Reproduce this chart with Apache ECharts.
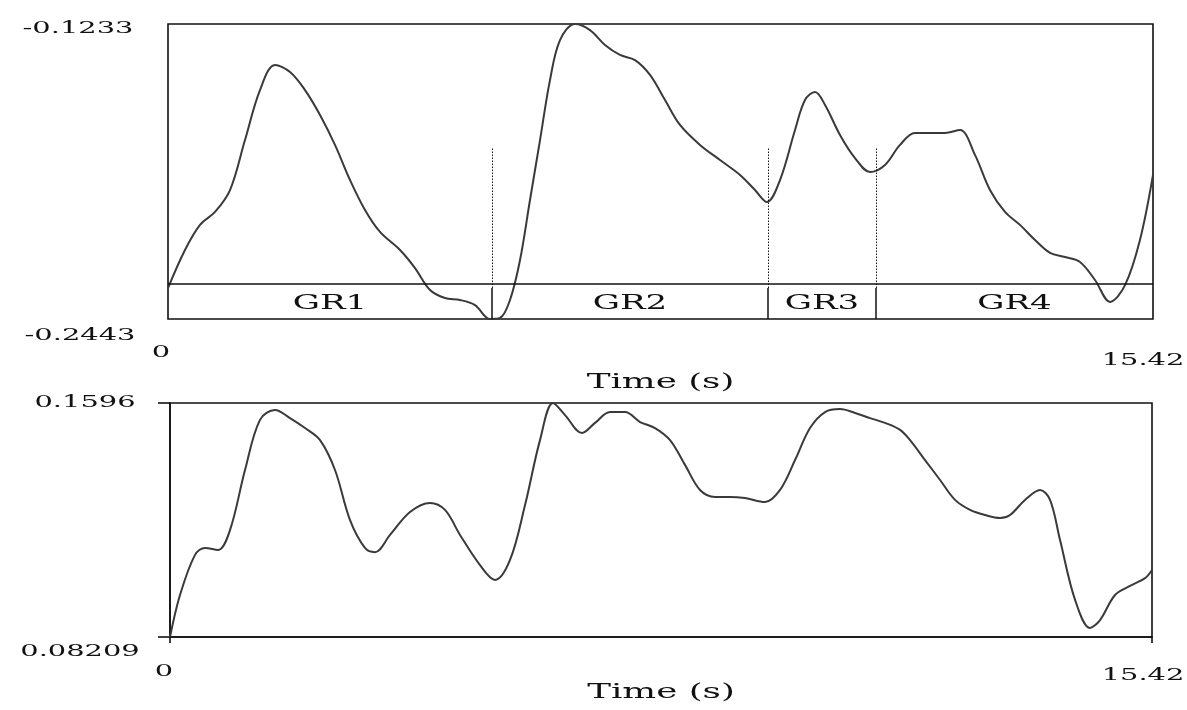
<!DOCTYPE html>
<html><head><meta charset="utf-8">
<script src="https://cdn.jsdelivr.net/npm/echarts@6/dist/echarts.min.js"></script>
<style>html,body{margin:0;padding:0;background:#fff}#c{width:1187px;height:710px}</style>
</head><body><div id="c"></div>
<script>
// ---- data ----
const topTime = [0,0.266,0.501,0.736,0.971,1.205,1.440,1.675,1.910,2.145,2.380,2.614,2.849,3.084,3.319,3.632,3.867,4.102,4.336,4.571,4.806,5.041,5.197,5.354,5.511,5.667,5.824,5.980,6.137,6.372,6.606,6.841,7.076,7.311,7.546,7.781,8.015,8.328,8.642,8.955,9.189,9.377,9.581,9.816,9.972,10.129,10.286,10.520,10.755,10.990,11.225,11.459,11.694,11.929,12.164,12.399,12.633,12.868,13.103,13.338,13.573,13.808,14.042,14.277,14.512,14.747,14.982,15.216,15.420];
const topValue = [-0.2316,-0.2160,-0.2057,-0.2004,-0.1914,-0.1709,-0.1504,-0.1401,-0.1430,-0.1504,-0.1606,-0.1729,-0.1873,-0.1996,-0.2086,-0.2160,-0.2234,-0.2324,-0.2357,-0.2365,-0.2386,-0.2443,-0.2439,-0.2365,-0.2201,-0.1955,-0.1709,-0.1463,-0.1299,-0.1233,-0.1258,-0.1319,-0.1360,-0.1381,-0.1442,-0.1545,-0.1647,-0.1729,-0.1791,-0.1852,-0.1914,-0.1963,-0.1873,-0.1668,-0.1545,-0.1512,-0.1565,-0.1688,-0.1783,-0.1840,-0.1811,-0.1729,-0.1680,-0.1680,-0.1680,-0.1668,-0.1770,-0.1914,-0.2004,-0.2057,-0.2119,-0.2172,-0.2189,-0.2209,-0.2283,-0.2373,-0.2304,-0.2119,-0.1852];
const bottomTime = [0,0.157,0.393,0.550,0.754,0.942,1.178,1.413,1.649,1.884,2.120,2.356,2.591,2.827,3.062,3.219,3.455,3.769,4.083,4.318,4.554,4.868,5.104,5.339,5.575,5.810,6.015,6.203,6.470,6.674,6.910,7.145,7.381,7.616,7.852,8.087,8.323,8.558,8.794,9.030,9.344,9.579,9.815,10.050,10.286,10.521,10.757,10.992,11.228,11.464,11.621,11.856,12.092,12.327,12.563,12.798,13.034,13.191,13.426,13.662,13.819,13.976,14.212,14.447,14.604,14.840,15.075,15.311,15.420];
const bottomValue = [0.08209,0.0960,0.1093,0.1116,0.1109,0.1175,0.1374,0.1540,0.1573,0.1546,0.1513,0.1473,0.1374,0.1208,0.1116,0.1102,0.1159,0.1235,0.1265,0.1242,0.1159,0.1059,0.1010,0.1076,0.1258,0.1473,0.1596,0.1556,0.1497,0.1530,0.1566,0.1566,0.1533,0.1513,0.1473,0.1391,0.1308,0.1285,0.1285,0.1281,0.1268,0.1308,0.1407,0.1513,0.1566,0.1576,0.1563,0.1546,0.1530,0.1507,0.1473,0.1407,0.1341,0.1275,0.1242,0.1225,0.1215,0.1225,0.1275,0.1308,0.1275,0.1142,0.0944,0.0851,0.0877,0.0960,0.0990,0.1016,0.1043];
const xTicks = [0, 15.42];
const topYTicks = [-0.2443, -0.1233];
const bottomYTicks = [0.08209, 0.1596];
const groupNames = ['GR1', 'GR2', 'GR3', 'GR4'];
const groupBounds = [0, 5.072, 9.393, 11.084, 15.42];
const bandTop = -0.2316;
const dottedTop = -0.1742;
const xTitle = 'Time (s)';

// ---- chart ----
const FONT = '"DejaVu Serif", "Liberation Serif", serif';
const SX = 1.7;
const INK = '#111';
const chart = echarts.init(document.getElementById('c'), null, {renderer: 'canvas'});

const zip = (a, b) => a.map((v, i) => [v, b[i]]);
const markData = [{yAxis: bandTop, lineStyle: {type: 'solid', color: INK, width: 1.5}}];
groupBounds.slice(1, -1).forEach(b => {
  markData.push([{coord: [b, topYTicks[0]], lineStyle: {type: 'solid', color: INK, width: 1.5}}, {coord: [b, bandTop]}]);
  markData.push([{coord: [b, bandTop], lineStyle: {type: [1.5, 1.5], color: INK, width: 1}}, {coord: [b, dottedTop]}]);
});

const gridStyle = {show: true, borderColor: INK, borderWidth: 1.6, backgroundColor: 'transparent'};
const option = {
  animation: false,
  backgroundColor: '#fff',
  grid: [
    Object.assign({left: 168, top: 24, width: 985, height: 295}, gridStyle),
    Object.assign({left: 170, top: 403, width: 982, height: 234}, gridStyle)
  ],
  xAxis: [
    {gridIndex: 0, type: 'value', min: xTicks[0], max: xTicks[1], axisLine: {show: false}, axisTick: {show: false}, axisLabel: {show: false}, splitLine: {show: false}},
    {gridIndex: 1, type: 'value', min: xTicks[0], max: xTicks[1], axisLine: {show: true, lineStyle: {color: INK, width: 1.6}},
      axisTick: {show: true, customValues: xTicks, length: 6, lineStyle: {color: INK, width: 1.6}}, axisLabel: {show: false}, splitLine: {show: false}}
  ],
  yAxis: [
    {gridIndex: 0, type: 'value', min: topYTicks[0], max: topYTicks[1], axisLine: {show: false}, axisTick: {show: false}, axisLabel: {show: false}, splitLine: {show: false}},
    {gridIndex: 1, type: 'value', min: bottomYTicks[0], max: bottomYTicks[1], axisLine: {show: true, lineStyle: {color: INK, width: 1.6}},
      axisTick: {show: true, customValues: bottomYTicks, length: 12, lineStyle: {color: INK, width: 1.6}}, axisLabel: {show: false}, splitLine: {show: false}}
  ],
  series: [
    {type: 'line', xAxisIndex: 0, yAxisIndex: 0, data: zip(topTime, topValue), smooth: 0.35, symbol: 'none', clip: true,
      lineStyle: {color: '#3a3a3a', width: 2},
      markLine: {silent: true, symbol: ['none', 'none'], label: {show: false}, animation: false, data: markData}},
    {type: 'line', xAxisIndex: 1, yAxisIndex: 1, data: zip(bottomTime, bottomValue), smooth: 0.35, symbol: 'none', clip: true,
      lineStyle: {color: '#3a3a3a', width: 2}}
  ]
};
chart.setOption(option);

// ---- text labels (stretched serif, like the reference) ----
function txt(x, y, s, size) {
  return {type: 'text', x: x, y: y, scaleX: SX, silent: true,
    style: {text: s, font: size + 'px ' + FONT, fill: INK, align: 'center', verticalAlign: 'middle', textAlign: 'center', textVerticalAlign: 'middle'}};
}
const px = (g, x, y) => chart.convertToPixel({gridIndex: g}, [x, y]);
const els = [];
// top panel
let tl = px(0, xTicks[0], topYTicks[1]), br = px(0, xTicks[1], topYTicks[0]);
els.push(txt(tl[0] - 90, tl[1] + 5, String(topYTicks[1]), 17));
els.push(txt(tl[0] - 88, br[1] + 17, String(topYTicks[0]), 17));
els.push(txt(tl[0] - 7, br[1] + 34, String(xTicks[0]), 17));
els.push(txt(br[0] - 10, br[1] + 42, String(xTicks[1]), 17));
els.push(txt((tl[0] + br[0]) / 2, br[1] + 64, xTitle, 21));
for (let i = 0; i < groupNames.length; i++) {
  const c = px(0, (groupBounds[i] + groupBounds[i + 1]) / 2, (topYTicks[0] + bandTop) / 2);
  els.push(txt(c[0], c[1], groupNames[i], 20));
}
// bottom panel
tl = px(1, xTicks[0], bottomYTicks[1]); br = px(1, xTicks[1], bottomYTicks[0]);
els.push(txt(tl[0] - 85, tl[1], String(bottomYTicks[1]), 17));
els.push(txt(tl[0] - 90, br[1] + 15, String(bottomYTicks[0]), 17));
els.push(txt(tl[0] - 6, br[1] + 35, String(xTicks[0]), 17));
els.push(txt(br[0] - 9, br[1] + 39, String(xTicks[1]), 17));
els.push(txt((tl[0] + br[0]) / 2, br[1] + 56, xTitle, 21));
chart.setOption({graphic: {elements: els}});
</script>
</body></html>
